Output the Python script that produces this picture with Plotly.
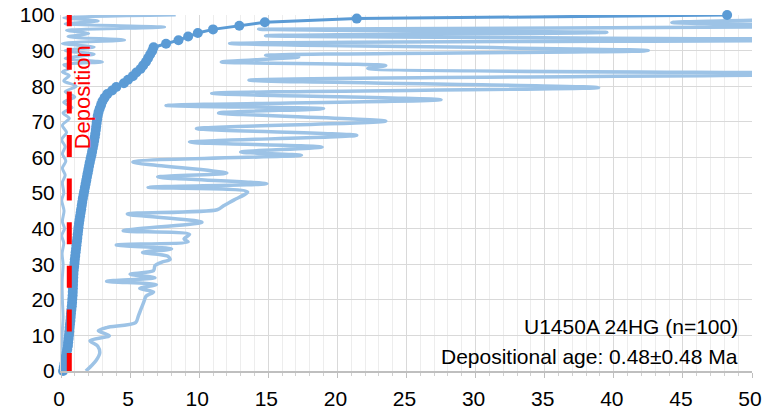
import plotly.graph_objects as go

# Sorted grain ages (Ma), cumulative percent 0..100
ages_sorted = [0.15, 0.2, 0.25, 0.3, 0.35, 0.4, 0.45, 0.5, 0.52, 0.55,
               0.58, 0.6, 0.62, 0.65, 0.68, 0.7, 0.72, 0.75, 0.78, 0.8,
               0.82, 0.84, 0.85, 0.86, 0.87, 0.88, 0.89, 0.9, 0.92, 0.95,
               0.98, 1.0, 1.03, 1.06, 1.09, 1.12, 1.15, 1.18, 1.21, 1.24,
               1.27, 1.3, 1.34, 1.38, 1.42, 1.46, 1.5, 1.54, 1.58, 1.63,
               1.68, 1.73, 1.78, 1.83, 1.88, 1.93, 1.98, 2.03, 2.08, 2.14,
               2.2, 2.25, 2.3, 2.35, 2.4, 2.44, 2.48, 2.52, 2.55, 2.58,
               2.62, 2.66, 2.72, 2.8, 2.9, 3.0, 3.15, 3.35, 3.7, 4.0,
               4.55, 4.85, 5.2, 5.45, 5.75, 5.95, 6.15, 6.3, 6.45, 6.6,
               6.7, 7.6, 8.5, 9.2, 9.9, 11.0, 12.9, 14.75, 21.4, 48.2]
n = len(ages_sorted)
cum_pct = [100.0 * i / (n - 1) for i in range(n)]

# Upper envelope (light blue, wide zigzag)
upper_y = [0, 1.5, 3, 5, 7, 8.5, 9.9, 11.3, 12.2, 13.6, 15.5, 17.5, 19.5, 21, 22.2, 23.2, 24.3,
           25.2, 26.2, 27.2, 28.2, 29.6, 30.6, 31.3, 32.3, 33.3, 34.3, 35.4, 36.3, 37.1, 38.4,
           39.4, 41.8, 44.1, 45.3, 46.5, 48, 50.3, 51.6, 52.6, 54.5, 55.6, 58.7, 60.6, 61.5,
           62.9, 64.3, 66.2, 68.1, 70.2, 72.5, 73.7, 74.6, 76.2, 78.0, 79.6, 81.7, 83.5, 85.0,
           85.8, 86.8, 88.2, 88.7, 90.0, 92.0, 93.0, 94.2, 95.1, 96.0, 96.8, 97.9, 99.0]
upper_x = [1.8, 2.2, 2.55, 2.8, 2.65, 2.1, 3.5, 2.7, 3.3, 5.4, 5.6, 5.8, 6.0, 6.15, 6.7, 5.7, 6.9,
           3.3, 6.8, 5.0, 6.7, 6.8, 7.3, 7.9, 7.7, 5.9, 8.0, 4.0, 9.2, 8.9, 9.3,
           4.5, 10.2, 4.8, 11.3, 11.8, 12.5, 13.5, 6.3, 14.9, 7.0, 12.0, 5.2, 17.4, 13.0,
           18.9, 9.3, 21.4, 9.8, 23.5, 11.4, 19.0, 7.6, 27.5, 10.9, 38.9, 13.6, 58, 22.2,
           23.5, 11.6, 17.2, 14.8, 42.5, 12.2, 58, 14.8, 39.5, 14.3, 58, 44.2, 58]

# Lower envelope (light blue, near zero)
lower_y = [0, 5, 10, 15, 20, 25, 30, 33, 36, 38, 40, 42, 45, 48, 50, 53, 55, 57, 59, 61, 63, 65,
           67, 69, 71, 72.5, 74, 75.5, 77, 78.5, 80, 81.5, 83, 84, 85, 86, 86.8, 87.8, 89, 90,
           91, 92, 93, 93.9, 94.8, 95.7, 96.6, 97.5, 98.3, 99.2, 100]
lower_x = [0.05, 0.12, 0.08, 0.15, 0.1, 0.08, 0.15, 0.08, 0.2, 0.05, 0.25, 0.1, 0.22, 0.05, 0.2,
           0.1, 0.3, 0.1, 0.35, 0.1, 0.3, 0.05, 0.4, 0.1, 0.6, 0.15, 0.8, 0.2, 1.0, 0.3, 1.1,
           0.2, 0.6, 0.1, 0.6, 0.2, 3.0, 0.3, 2.4, 0.3, 2.4, 0.1, 4.6, 0.5, 2.0, 0.4, 7.5, 0.3,
           2.7, 0.2, 8.3]

dep_age = 0.6
x_ticks = [0, 5, 10, 15, 20, 25, 30, 35, 40, 45, 50]
y_ticks = [0, 10, 20, 30, 40, 50, 60, 70, 80, 90, 100]

FONT = "Liberation Sans, Arial, sans-serif"
dark = "#5B9BD5"
light = "#9DC3E6"

fig = go.Figure()
fig.add_trace(go.Scatter(x=upper_x, y=upper_y, mode="lines",
                         line=dict(color=light, width=3.5, shape="spline", smoothing=0.8),
                         hoverinfo="skip"))
fig.add_trace(go.Scatter(x=lower_x, y=lower_y, mode="lines",
                         line=dict(color=light, width=3, shape="spline", smoothing=0.8),
                         hoverinfo="skip"))
fig.add_trace(go.Scatter(x=ages_sorted, y=cum_pct, mode="lines+markers", cliponaxis=False,
                         line=dict(color=dark, width=3),
                         marker=dict(color=dark, size=10)))
dash = "18px,21.6px," + ",".join(["22px,21.6px"] * 9)
fig.add_trace(go.Scatter(x=[dep_age, dep_age], y=[0, 100], mode="lines",
                         line=dict(color="#FF0000", width=5, dash=dash)))

fig.add_annotation(x=1.55, y=77, xref="x", yref="y", text="Deposition", textangle=-90,
                   showarrow=False, font=dict(family=FONT, size=22, color="#FF0000"))
fig.add_annotation(x=49.1, y=12.4, xref="x", yref="y", xanchor="right",
                   text="U1450A 24HG (n=100)", showarrow=False,
                   font=dict(family=FONT, size=21, color="#000000"))
fig.add_annotation(x=49.1, y=4.0, xref="x", yref="y", xanchor="right",
                   text="Depositional age: 0.48±0.48 Ma", showarrow=False,
                   font=dict(family=FONT, size=21, color="#000000"))

fig.update_layout(
    width=762, height=410,
    margin=dict(l=61, r=10, t=15, b=39, autoexpand=False),
    paper_bgcolor="white", plot_bgcolor="white",
    showlegend=False,
    font=dict(family=FONT, size=21, color="#000000"),
)
fig.update_xaxes(range=[0, 50], tickvals=x_ticks, ticktext=[str(v) for v in x_ticks],
                 automargin=False, ticklabeloverflow="allow", ticklabelstandoff=3,
                 ticklabelshift=-2,
                 showgrid=True, gridcolor="#D9D9D9", gridwidth=1, zeroline=False,
                 showline=True, linecolor="#BFBFBF", linewidth=1.5,
                 ticks="outside", ticklen=5, tickcolor="#BFBFBF",
                 minor=dict(dtick=1, showgrid=True, gridcolor="#EDEDED",
                            ticks="outside", ticklen=3, tickcolor="#D0D0D0"),
                 tickfont=dict(family=FONT, size=21, color="#000000"))
fig.update_yaxes(range=[0, 100], tickvals=y_ticks, ticktext=[str(v) for v in y_ticks],
                 automargin=False, ticklabeloverflow="allow",
                 showgrid=True, gridcolor="#D9D9D9", gridwidth=1, zeroline=False,
                 showline=True, linecolor="#D9D9D9", ticks="", ticklabelstandoff=1,
                 tickfont=dict(family=FONT, size=21, color="#000000"))

fig.write_html("out.html", config={"displayModeBar": False},
               post_script="document.body.style.margin='0';")
